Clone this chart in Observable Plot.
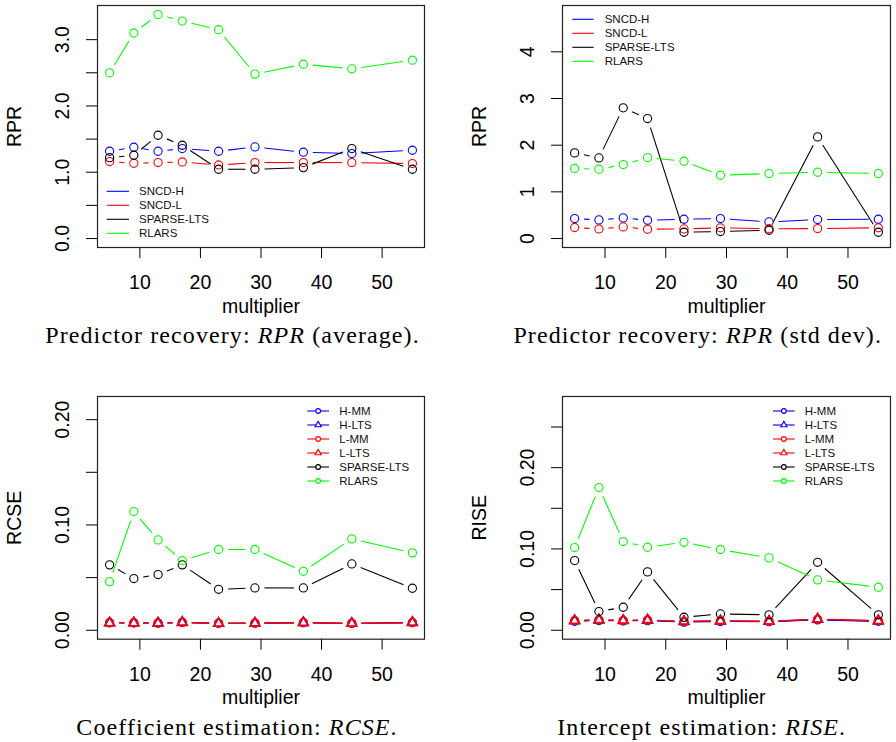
<!DOCTYPE html>
<html><head><meta charset="utf-8">
<script src="https://cdn.jsdelivr.net/npm/d3@7"></script>
<script src="https://cdn.jsdelivr.net/npm/@observablehq/plot@0.6"></script>
<style>
body{margin:0;background:#fff;}
#root{position:relative;width:896px;height:742px;overflow:hidden;background:#fff;font-family:"Liberation Sans",Arial,sans-serif;}
.panel{position:absolute;}
.caption{position:absolute;font-family:"Liberation Serif","Times New Roman",serif;font-size:24px;letter-spacing:1.1px;white-space:nowrap;transform:translate(-50%,-50%);color:#000;}
.caption i{font-style:italic;}
#legends{position:absolute;left:0;top:0;pointer-events:none;}
</style></head><body><div id="root"></div>
<script>
// ---------- data ----------
const multiplier = [5, 9, 13, 17, 23, 29, 37, 45, 55];
const xTicks = [10, 20, 30, 40, 50];

// Predictor recovery: RPR (average)
const rprAvgSNCDH     = [1.317, 1.377, 1.317, 1.357, 1.317, 1.382, 1.302, 1.282, 1.332];
const rprAvgSNCDL     = [1.161, 1.136, 1.146, 1.155, 1.110, 1.146, 1.146, 1.146, 1.131];
const rprAvgSparseLTS = [1.220, 1.256, 1.558, 1.407, 1.045, 1.045, 1.070, 1.357, 1.045];
const rprAvgRLARS     = [2.50, 3.10, 3.38, 3.28, 3.15, 2.48, 2.63, 2.56, 2.69];

// Predictor recovery: RPR (std dev)
const rprSdSNCDH     = [0.428, 0.399, 0.442, 0.392, 0.413, 0.428, 0.356, 0.407, 0.413];
const rprSdSNCDL     = [0.236, 0.205, 0.249, 0.199, 0.206, 0.230, 0.210, 0.214, 0.230];
const rprSdSparseLTS = [1.835, 1.727, 2.80, 2.57, 0.135, 0.150, 0.178, 2.177, 0.135];
const rprSdRLARS     = [1.50, 1.485, 1.585, 1.735, 1.656, 1.356, 1.393, 1.42, 1.393];

// Coefficient estimation: RCSE
const rcseHMM       = [0.0072, 0.0071, 0.0069, 0.0075, 0.0066, 0.0068, 0.0072, 0.0066, 0.0073];
const rcseHLTS      = [0.0070, 0.0070, 0.0068, 0.0074, 0.0065, 0.0067, 0.0071, 0.0065, 0.0074];
const rcseLMM       = [0.0071, 0.0070, 0.0068, 0.0074, 0.0066, 0.0067, 0.0072, 0.0065, 0.0072];
const rcseLLTS      = [0.0070, 0.0069, 0.0067, 0.0073, 0.0065, 0.0066, 0.0071, 0.0064, 0.0071];
const rcseSparseLTS = [0.0621, 0.0491, 0.0529, 0.0621, 0.0389, 0.0402, 0.0402, 0.0630, 0.0399];
const rcseRLARS     = [0.0462, 0.1127, 0.0858, 0.0662, 0.0767, 0.0767, 0.0560, 0.0868, 0.0735];

// Intercept estimation: RISE
const riseHMM       = [0.0110, 0.0120, 0.0115, 0.0118, 0.0100, 0.0108, 0.0105, 0.0128, 0.0110];
const riseHLTS      = [0.0115, 0.0125, 0.0118, 0.0122, 0.0105, 0.0112, 0.0108, 0.0132, 0.0113];
const riseLMM       = [0.0118, 0.0128, 0.0120, 0.0125, 0.0108, 0.0115, 0.0110, 0.0135, 0.0115];
const riseLLTS      = [0.0120, 0.0130, 0.0122, 0.0128, 0.0110, 0.0117, 0.0112, 0.0138, 0.0118];
const riseSparseLTS = [0.0857, 0.0230, 0.0283, 0.0718, 0.0160, 0.0201, 0.0190, 0.0836, 0.0190];
const riseRLARS     = [0.1017, 0.1755, 0.1091, 0.1021, 0.1082, 0.0993, 0.0890, 0.0620, 0.0529];

const rprSeriesNames = ["SNCD-H", "SNCD-L", "SPARSE-LTS", "RLARS"];
const estSeriesNames = ["H-MM", "H-LTS", "L-MM", "L-LTS", "SPARSE-LTS", "RLARS"];
const rprColors = ["blue", "red", "black", "#00ff00"];
const estColors = ["blue", "blue", "red", "red", "black", "#00ff00"];
const estSymbols = ["circle", "triangle", "circle", "triangle", "circle", "circle"];

const yTicksAvg = [0, 0.5, 1, 1.5, 2, 2.5, 3];
const yLabelsAvg = ["0.0", "", "1.0", "", "2.0", "", "3.0"];
const yTicksSd = [0, 1, 2, 3, 4];
const yLabelsSd = ["0", "1", "2", "3", "4"];
const yTicksRcse = [0, 0.05, 0.1, 0.15, 0.2];
const yLabelsRcse = ["0.00", "", "0.10", "", "0.20"];
const yTicksRise = [0, 0.05, 0.1, 0.15, 0.2, 0.25];
const yLabelsRise = ["0.00", "", "0.10", "", "0.20", ""];

// ---------- drawing ----------
const root = document.getElementById("root");
const GAP = 9.5;
const FONT = "Liberation Sans, Arial, Helvetica, sans-serif";

function seriesList(names, colors, symbols, values) {
  return names.map((n, i) => ({name: n, color: colors[i], symbol: symbols ? symbols[i] : "circle", values: values[i]}));
}

// R type="b": leave a gap around each point
function shortenLinks(svg) {
  const els = svg.querySelectorAll('g[aria-label="link"] path, g[aria-label="link"] line');
  els.forEach(el => {
    let x1, y1, x2, y2;
    if (el.tagName === "line") {
      x1 = +el.getAttribute("x1"); y1 = +el.getAttribute("y1");
      x2 = +el.getAttribute("x2"); y2 = +el.getAttribute("y2");
    } else {
      const n = (el.getAttribute("d") || "").match(/-?\d*\.?\d+(?:e-?\d+)?/g);
      if (!n || n.length < 4) return;
      [x1, y1, x2, y2] = n.slice(0, 4).map(Number);
    }
    const dx = x2 - x1, dy = y2 - y1, L = Math.hypot(dx, dy);
    if (L <= 2 * GAP + 0.5) { el.remove(); return; }
    const ux = dx / L, uy = dy / L;
    const a = [x1 + ux * GAP, y1 + uy * GAP], b = [x2 - ux * GAP, y2 - uy * GAP];
    if (el.tagName === "line") {
      el.setAttribute("x1", a[0]); el.setAttribute("y1", a[1]);
      el.setAttribute("x2", b[0]); el.setAttribute("y2", b[1]);
    } else {
      el.setAttribute("d", `M${a[0]},${a[1]}L${b[0]},${b[1]}`);
    }
  });
}

function panel(cfg) {
  const marks = [];
  const labelMap = new Map(cfg.yTicks.map((t, i) => [t, cfg.yLabels[i]]));
  marks.push(Plot.axisX({ticks: xTicks, tickSize: 11, tickPadding: 17, tickFormat: d => String(d),
    label: "multiplier", labelAnchor: "center", labelOffset: 65, labelArrow: "none", fontSize: 19.5}));
  marks.push(Plot.axisY({ticks: cfg.yTicks, tickSize: 11, tickPadding: 18, tickRotate: -90,
    tickFormat: d => labelMap.get(d) ?? "", label: cfg.yLabel, labelAnchor: "center",
    labelOffset: cfg.yLabelOffset, labelArrow: "none", fontSize: 19.5}));
  for (const s of cfg.series) {
    const pts = multiplier.map((m, i) => ({x: m, y: s.values[i]}));
    const segs = pts.slice(1).map((p, i) => ({x1: pts[i].x, y1: pts[i].y, x2: p.x, y2: p.y}));
    marks.push(Plot.link(segs, {x1: "x1", y1: "y1", x2: "x2", y2: "y2", stroke: s.color, strokeWidth: 1.1}));
    marks.push(Plot.dot(pts, {x: "x", y: "y", stroke: s.color, fill: "none", symbol: s.symbol,
      r: s.symbol === "triangle" ? 3.6 : 4.1, strokeWidth: s.symbol === "triangle" ? 1.6 : 1.1}));
  }
  marks.push(Plot.frame({stroke: "#222", strokeWidth: 1.2}));
  const svg = Plot.plot({
    width: cfg.width, height: cfg.height,
    marginLeft: cfg.ml, marginRight: cfg.mr, marginTop: cfg.mt, marginBottom: cfg.mb,
    style: {fontFamily: FONT, fontSize: "19.5px", background: "white", color: "black", overflow: "visible"},
    x: {domain: [3, 57]},
    y: {domain: cfg.yDomain},
    marks
  });
  shortenLinks(svg);
  const div = document.createElement("div");
  div.className = "panel";
  div.style.left = cfg.left + "px";
  div.style.top = cfg.top + "px";
  div.appendChild(svg);
  root.appendChild(div);
}

const rprSeriesAvg = seriesList(rprSeriesNames, rprColors, null, [rprAvgSNCDH, rprAvgSNCDL, rprAvgSparseLTS, rprAvgRLARS]);
const rprSeriesSd = seriesList(rprSeriesNames, rprColors, null, [rprSdSNCDH, rprSdSNCDL, rprSdSparseLTS, rprSdRLARS]);
const rcseSeries = seriesList(estSeriesNames, estColors, estSymbols, [rcseHMM, rcseHLTS, rcseLMM, rcseLLTS, rcseSparseLTS, rcseRLARS]);
const riseSeries = seriesList(estSeriesNames, estColors, estSymbols, [riseHMM, riseHLTS, riseLMM, riseLLTS, riseSparseLTS, riseRLARS]);

panel({left: 0, top: 0, width: 448, height: 320, ml: 97, mr: 24, mt: 5, mb: 73,
  yDomain: [-0.135, 3.515], yTicks: yTicksAvg, yLabels: yLabelsAvg, yLabel: "RPR", yLabelOffset: 90, series: rprSeriesAvg});
panel({left: 448, top: 0, width: 448, height: 320, ml: 114, mr: 6, mt: 5, mb: 73,
  yDomain: [-0.192, 4.992], yTicks: yTicksSd, yLabels: yLabelsSd, yLabel: "RPR", yLabelOffset: 90, series: rprSeriesSd});
panel({left: 0, top: 380, width: 448, height: 320, ml: 97, mr: 24, mt: 16, mb: 61.3,
  yDomain: [-0.0085, 0.222], yTicks: yTicksRcse, yLabels: yLabelsRcse, yLabel: "RCSE", yLabelOffset: 90, series: rcseSeries});
panel({left: 448, top: 380, width: 448, height: 320, ml: 114, mr: 6, mt: 16, mb: 61.3,
  yDomain: [-0.011, 0.2875], yTicks: yTicksRise, yLabels: yLabelsRise, yLabel: "RISE", yLabelOffset: 90, series: riseSeries});

// ---------- legends ----------
const lg = d3.select(root).append("svg").attr("id", "legends").attr("width", 896).attr("height", 742)
  .style("font-family", FONT).style("font-size", "11.5px");
function legend(series, x0, x1, tx, y0, step, withPts) {
  series.forEach((s, i) => {
    const y = y0 + i * step;
    lg.append("line").attr("x1", x0).attr("x2", x1).attr("y1", y).attr("y2", y).attr("stroke", s.color).attr("stroke-width", 1.1);
    if (withPts) {
      const type = s.symbol === "triangle" ? d3.symbolTriangle : d3.symbolCircle;
      lg.append("path").attr("d", d3.symbol(type, 17)()).attr("transform", `translate(${(x0 + x1) / 2},${y})`)
        .attr("fill", "white").attr("stroke", s.color).attr("stroke-width", 1.1);
    }
    lg.append("text").attr("x", tx).attr("y", y).attr("dy", "0.36em").attr("fill", "#111").text(s.name);
  });
}
legend(rprSeriesAvg, 106.7, 129, 139, 191.3, 14, false);
legend(rprSeriesSd, 572.3, 593.7, 604.7, 19.3, 14, false);
legend(rcseSeries, 307.3, 329, 339.3, 411, 14, true);
legend(riseSeries, 773, 794.7, 804.7, 411, 14, true);

// ---------- captions ----------
const captions = [
  {cx: 232.5, cy: 335, html: "Predictor recovery: <i>RPR</i> (average)."},
  {cx: 697.7, cy: 335, html: "Predictor recovery: <i>RPR</i> (std dev)."},
  {cx: 237, cy: 727, html: "Coefficient estimation: <i>RCSE</i>."},
  {cx: 701.7, cy: 727, html: "Intercept estimation: <i>RISE</i>."}
];
captions.forEach(c => {
  const d = document.createElement("div");
  d.className = "caption";
  d.style.left = c.cx + "px";
  d.style.top = c.cy + "px";
  d.innerHTML = c.html;
  root.appendChild(d);
});
</script></body></html>
